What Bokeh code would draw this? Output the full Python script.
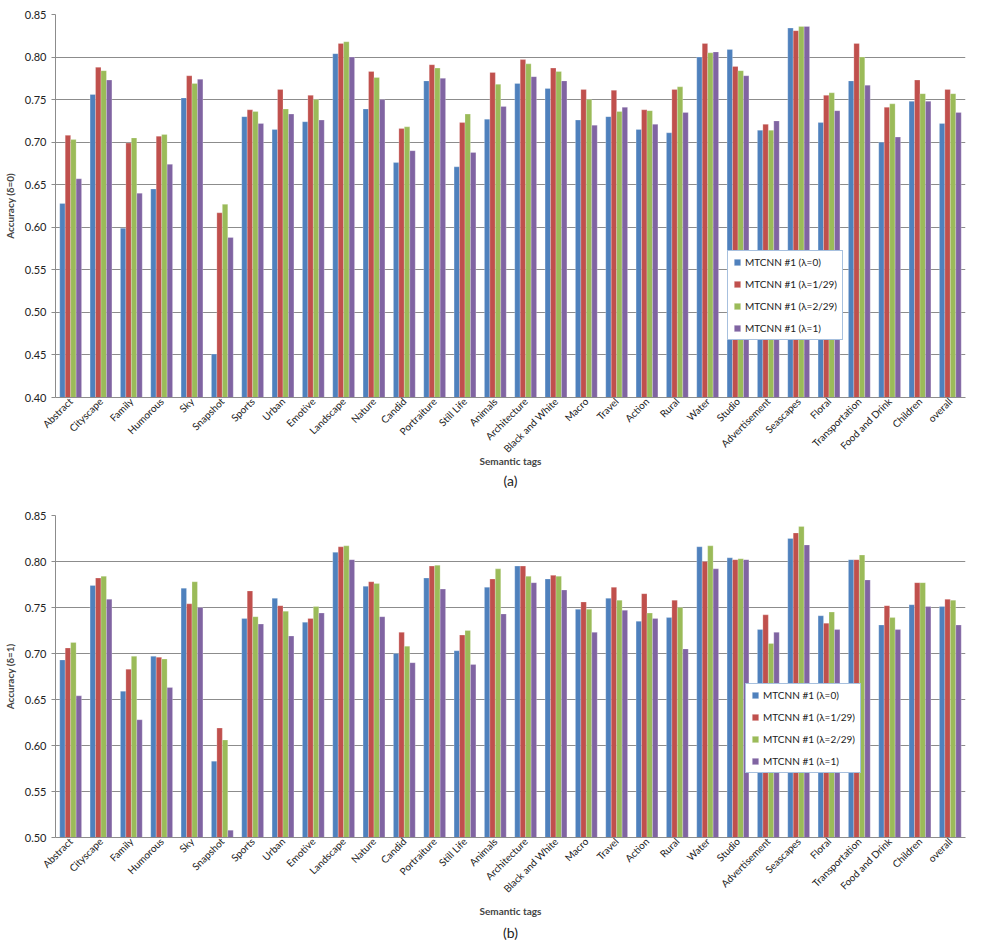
import math
from bokeh.plotting import figure
from bokeh.models import (ColumnDataSource, FactorRange, Legend, LegendItem,
                          Title, NumeralTickFormatter, FixedTicker)
from bokeh.transform import dodge
from bokeh.layouts import column
from bokeh.embed import file_html
from bokeh.resources import INLINE

categories = ["Abstract", "Cityscape", "Family", "Humorous", "Sky", "Snapshot",
              "Sports", "Urban", "Emotive", "Landscape", "Nature", "Candid",
              "Portraiture", "Still Life", "Animals", "Architecture",
              "Black and White", "Macro", "Travel", "Action", "Rural", "Water",
              "Studio", "Advertisement", "Seascapes", "Floral", "Transportation",
              "Food and Drink", "Children", "overall"]

series_names = ["MTCNN #1 (\u03bb=0)", "MTCNN #1 (\u03bb=1/29)",
                "MTCNN #1 (\u03bb=2/29)", "MTCNN #1 (\u03bb=1)"]

# (a) delta = 0
a_l0 = [0.628, 0.756, 0.599, 0.645, 0.752, 0.451, 0.730, 0.715, 0.724, 0.804,
        0.739, 0.676, 0.772, 0.671, 0.727, 0.769, 0.763, 0.726, 0.730, 0.715,
        0.711, 0.800, 0.809, 0.714, 0.834, 0.723, 0.772, 0.700, 0.748, 0.722]
a_l1 = [0.708, 0.788, 0.699, 0.707, 0.778, 0.617, 0.738, 0.762, 0.755, 0.816,
        0.783, 0.716, 0.791, 0.723, 0.782, 0.797, 0.787, 0.762, 0.761, 0.738,
        0.762, 0.816, 0.789, 0.721, 0.831, 0.755, 0.816, 0.741, 0.773, 0.762]
a_l2 = [0.703, 0.784, 0.705, 0.709, 0.769, 0.627, 0.736, 0.739, 0.750, 0.818,
        0.776, 0.718, 0.787, 0.733, 0.768, 0.792, 0.783, 0.750, 0.736, 0.737,
        0.765, 0.805, 0.784, 0.714, 0.836, 0.758, 0.800, 0.745, 0.757, 0.757]
a_l3 = [0.657, 0.773, 0.640, 0.674, 0.774, 0.588, 0.722, 0.733, 0.726, 0.800,
        0.750, 0.690, 0.775, 0.688, 0.742, 0.777, 0.772, 0.720, 0.741, 0.721,
        0.735, 0.806, 0.778, 0.725, 0.836, 0.737, 0.767, 0.706, 0.748, 0.735]

# (b) delta = 1
b_l0 = [0.693, 0.774, 0.659, 0.697, 0.771, 0.583, 0.738, 0.760, 0.734, 0.810,
        0.773, 0.700, 0.782, 0.703, 0.772, 0.795, 0.781, 0.748, 0.760, 0.735,
        0.739, 0.816, 0.804, 0.726, 0.825, 0.741, 0.802, 0.731, 0.753, 0.751]
b_l1 = [0.706, 0.782, 0.683, 0.696, 0.754, 0.619, 0.768, 0.752, 0.738, 0.816,
        0.778, 0.723, 0.795, 0.720, 0.781, 0.795, 0.785, 0.756, 0.772, 0.765,
        0.758, 0.800, 0.802, 0.742, 0.831, 0.733, 0.802, 0.752, 0.777, 0.759]
b_l2 = [0.712, 0.784, 0.697, 0.694, 0.778, 0.606, 0.740, 0.746, 0.751, 0.817,
        0.776, 0.708, 0.796, 0.725, 0.792, 0.784, 0.784, 0.748, 0.758, 0.744,
        0.750, 0.817, 0.803, 0.711, 0.838, 0.745, 0.807, 0.739, 0.777, 0.758]
b_l3 = [0.654, 0.759, 0.628, 0.663, 0.750, 0.508, 0.732, 0.719, 0.744, 0.802,
        0.740, 0.690, 0.770, 0.688, 0.743, 0.777, 0.769, 0.723, 0.747, 0.738,
        0.705, 0.792, 0.802, 0.723, 0.818, 0.726, 0.780, 0.726, 0.751, 0.731]

y_ticks_a = [0.40, 0.45, 0.50, 0.55, 0.60, 0.65, 0.70, 0.75, 0.80, 0.85]
y_ticks_b = [0.50, 0.55, 0.60, 0.65, 0.70, 0.75, 0.80, 0.85]

colors = ["#4F81BD", "#C0504D", "#9BBB59", "#8064A2"]
FONT = "Lato"


def make_chart(vals, ylab, yticks, caption, height, top_border, legend_loc,
               xlabel_standoff, title_standoff):
    src = ColumnDataSource(dict(cat=categories, s0=vals[0], s1=vals[1],
                                s2=vals[2], s3=vals[3]))
    p = figure(x_range=FactorRange(*categories),
               y_range=(yticks[0], yticks[-1]),
               width=969, height=height, output_backend="svg",
               toolbar_location=None, min_border_left=8, min_border_right=4,
               min_border_top=top_border, min_border_bottom=0)
    p.outline_line_color = None
    p.background_fill_color = "white"
    offs = [-0.27, -0.09, 0.09, 0.27]
    renderers = []
    for i, key in enumerate(["s0", "s1", "s2", "s3"]):
        r = p.vbar(x=dodge("cat", offs[i], range=p.x_range), top=key,
                   bottom=yticks[0], width=0.18, source=src,
                   fill_color=colors[i], line_color="#ffffff",
                   line_width=0.4, line_alpha=0.6)
        renderers.append(r)

    p.xgrid.grid_line_color = None
    p.ygrid.grid_line_color = "#8c8c8c"
    p.ygrid.grid_line_width = 1
    p.yaxis.ticker = FixedTicker(ticks=yticks)
    p.yaxis.formatter = NumeralTickFormatter(format="0.00")
    p.yaxis.axis_line_color = "#8c8c8c"
    p.yaxis.major_tick_line_color = "#8c8c8c"
    p.yaxis.major_tick_out = 4
    p.yaxis.major_tick_in = 0
    p.yaxis.minor_tick_line_color = None
    p.yaxis.major_label_text_font = FONT
    p.yaxis.major_label_text_font_size = "11px"
    p.yaxis.major_label_text_color = "#222222"
    p.yaxis.axis_label = ylab
    p.yaxis.axis_label_text_font = FONT
    p.yaxis.axis_label_text_font_size = "10px"
    p.yaxis.axis_label_text_font_style = "bold"
    p.yaxis.axis_label_standoff = 6

    p.xaxis.axis_line_color = "#8c8c8c"
    p.xaxis.major_tick_line_color = None
    p.xaxis.major_tick_out = 0
    p.xaxis.major_tick_in = 0
    p.xaxis.major_label_orientation = math.pi / 4
    p.xaxis.major_label_text_font = FONT
    p.xaxis.major_label_text_font_size = "10px"
    p.xaxis.major_label_text_color = "#222222"
    p.xaxis.major_label_standoff = 2
    p.xaxis.axis_label = "Semantic tags"
    p.xaxis.axis_label_text_font = FONT
    p.xaxis.axis_label_text_font_size = "10px"
    p.xaxis.axis_label_text_font_style = "bold"
    p.xaxis.axis_label_standoff = xlabel_standoff
    p.x_range.range_padding = 0.0
    p.x_range.group_padding = 0.0

    items = [LegendItem(label=series_names[i], renderers=[renderers[i]])
             for i in range(4)]
    leg = Legend(items=items, location=legend_loc)
    leg.border_line_color = "#4F81BD"
    leg.border_line_width = 1
    leg.background_fill_color = "white"
    leg.background_fill_alpha = 1.0
    leg.label_text_font = FONT
    leg.label_text_font_size = "10px"
    leg.label_text_color = "#222222"
    leg.glyph_width = 8
    leg.glyph_height = 8
    leg.label_height = 12
    leg.label_standoff = 4
    leg.spacing = 10
    leg.padding = 5
    leg.margin = 0
    p.add_layout(leg, "center")

    t = Title(text=caption, align="center", text_font=FONT,
              text_font_size="14px", text_font_style="normal",
              text_color="#222222", standoff=title_standoff, offset=0)
    p.add_layout(t, "below")
    return p


p1 = make_chart([a_l0, a_l1, a_l2, a_l3], "Accuracy (\u03b4=0)", y_ticks_a, "(a)",
                489, 14, (672, 57), -7, 1)
p2 = make_chart([b_l0, b_l1, b_l2, b_l3], "Accuracy (\u03b4=1)", y_ticks_b, "(b)",
                454, 26, (690, 64), 3, 5)

layout = column(p1, p2, spacing=0)
open("out.html", "w").write(file_html(layout, INLINE))
